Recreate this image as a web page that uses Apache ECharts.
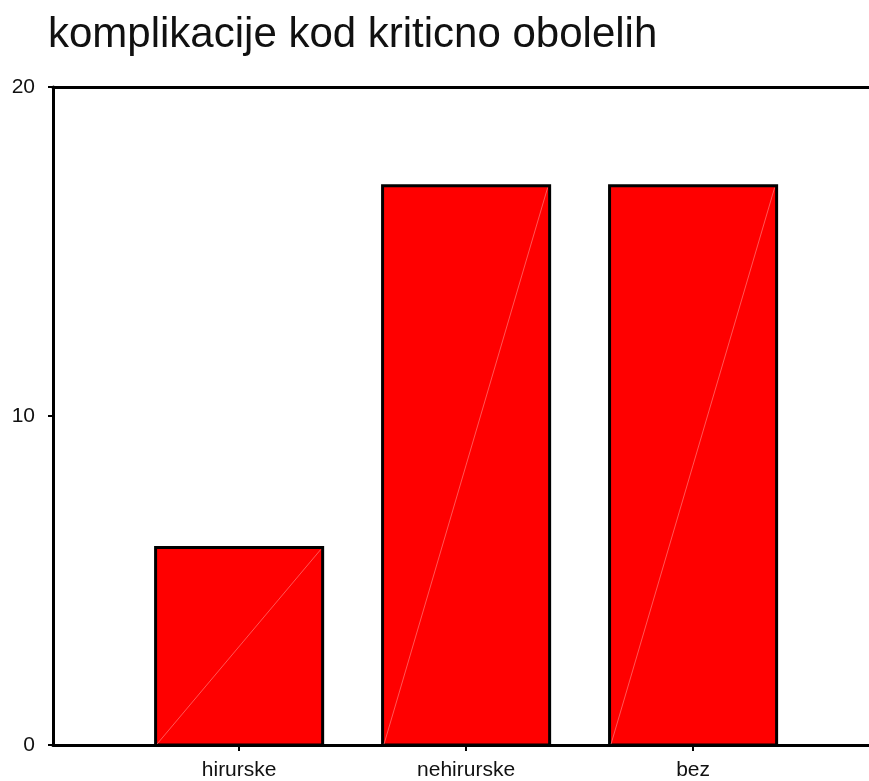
<!DOCTYPE html>
<html>
<head>
<meta charset="utf-8">
<script src="https://cdn.jsdelivr.net/npm/echarts@6/dist/echarts.min.js"></script>
<style>
  html, body { margin: 0; padding: 0; background: #fff; }
</style>
</head>
<body>
<div id="barchart" style="width: 869px;height: 781px;"></div>

<script type="text/javascript">
    var titleText = 'komplikacije kod kriticno obolelih';
    var categories = ['hirurske', 'nehirurske', 'bez'];
    var counts = [6, 17, 17];
    var yTicks = [0, 10, 20];

    var barData = [];
    for (var i = 0; i < categories.length; i++) {
        barData.push([i + 1, counts[i]]);
    }

    // bars drawn as rects with the thin diagonal of the original renderer
    function renderBar(params, api) {
        var x = api.value(0);
        var y = api.value(1);
        var halfW = 0.368;
        var bl = api.coord([x - halfW, 0]);
        var tr = api.coord([x + halfW, y]);
        return {
            type: 'group',
            children: [
                {
                    type: 'rect',
                    shape: { x: bl[0], y: tr[1], width: tr[0] - bl[0], height: bl[1] - tr[1] },
                    style: { fill: '#ff0000', stroke: '#000', lineWidth: 3 }
                },
                {
                    type: 'line',
                    shape: { x1: bl[0] + 1.5, y1: bl[1] - 1, x2: tr[0] - 2, y2: tr[1] + 2 },
                    style: { stroke: '#ff9090', lineWidth: 0.6 }
                }
            ]
        };
    }

    var chart = echarts.init(document.getElementById('barchart'));
    var option = {
        animation: false,
        title: {
            text: titleText,
            left: 43,
            top: 9,
            textStyle: {
                fontFamily: 'Liberation Sans, Arial, sans-serif',
                fontSize: 42,
                fontWeight: 'normal',
                color: '#111'
            }
        },
        grid: {
            left: 53,
            right: 0,
            top: 87,
            bottom: 34,
            containLabel: false
        },
        xAxis: [
            {
                type: 'value',
                min: 0.18,
                max: 3.775,
                position: 'bottom',
                axisLine: { show: true, lineStyle: { color: '#000', width: 3 } },
                axisTick: {
                    show: true,
                    customValues: [1, 2, 3],
                    length: 6,
                    lineStyle: { color: '#000', width: 2 }
                },
                axisLabel: {
                    customValues: [1, 2, 3],
                    margin: 15,
                    fontFamily: 'Liberation Sans, Arial, sans-serif',
                    fontSize: 21,
                    color: '#111',
                    formatter: function (v) { return categories[Math.round(v) - 1] || ''; }
                },
                splitLine: { show: false }
            },
            {
                type: 'value',
                min: 0.18,
                max: 3.775,
                position: 'top',
                axisLine: { show: true, lineStyle: { color: '#000', width: 3 } },
                axisTick: { show: false },
                axisLabel: { show: false },
                splitLine: { show: false }
            }
        ],
        yAxis: {
            type: 'value',
            min: yTicks[0],
            max: yTicks[yTicks.length - 1],
            interval: 10,
            axisLine: { show: true, lineStyle: { color: '#000', width: 3 } },
            axisTick: { show: true, length: 5, lineStyle: { color: '#000', width: 2 } },
            axisLabel: {
                margin: 18,
                fontFamily: 'Liberation Sans, Arial, sans-serif',
                fontSize: 21,
                color: '#111'
            },
            splitLine: { show: false }
        },
        series: [
            {
                type: 'custom',
                renderItem: renderBar,
                data: barData,
                encode: { x: 0, y: 1 }
            }
        ]
    };
    chart.setOption(option);
</script>
</body>
</html>
